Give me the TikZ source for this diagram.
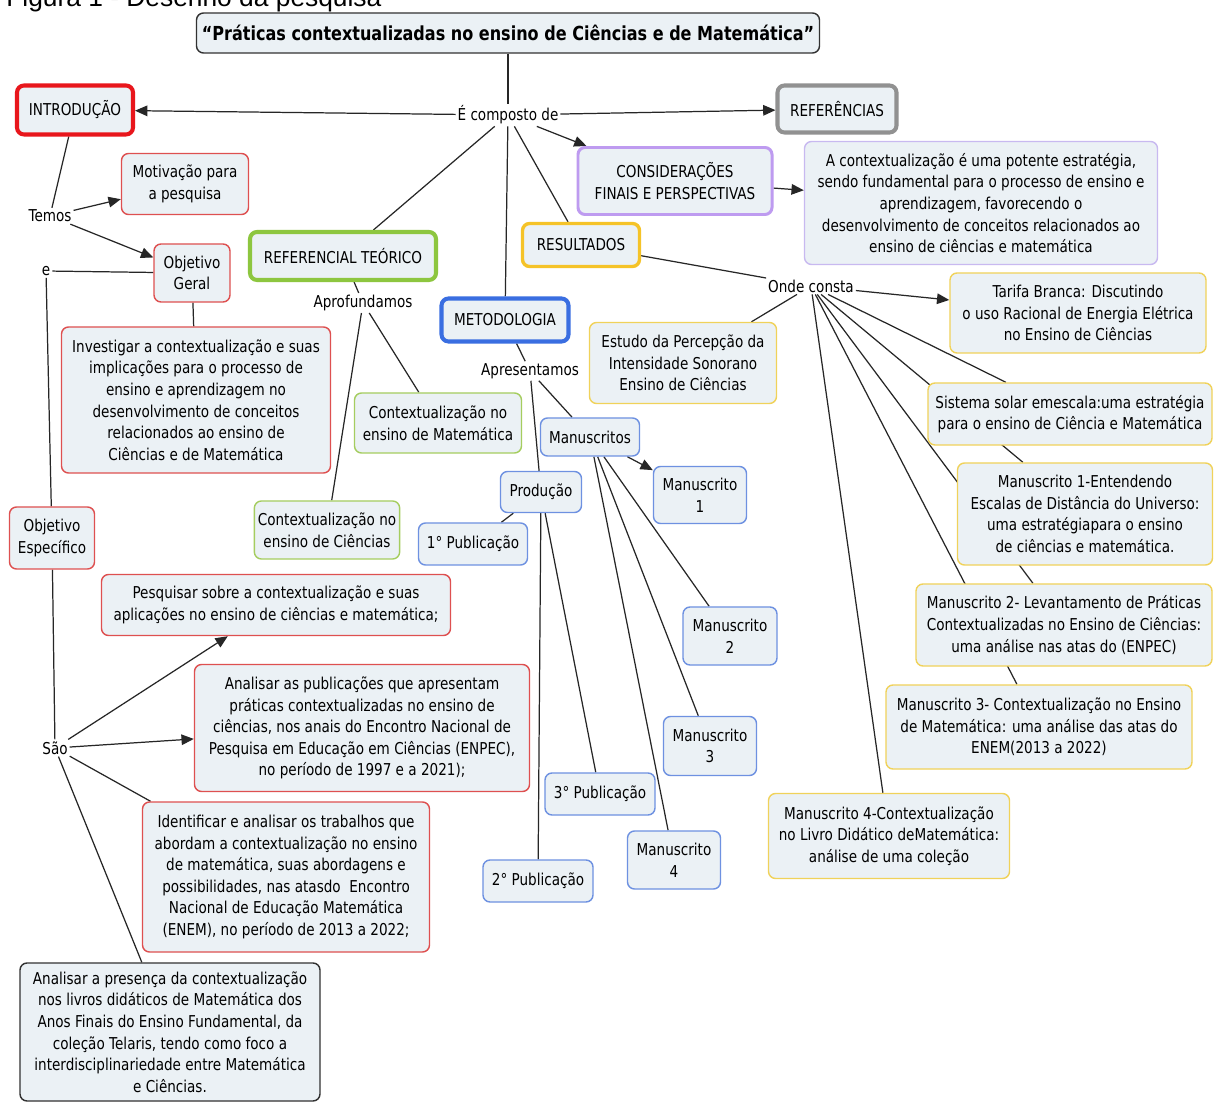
\documentclass[tikz,border=0pt]{standalone}
\usepackage{fontspec}
\setmainfont{DejaVu Sans}[FakeStretch=0.83]
\newfontfamily\captfont{Liberation Sans}
\usetikzlibrary{arrows.meta}

\definecolor{boxfill}{RGB}{235,241,245}
\definecolor{redA}{RGB}{232,22,28}
\definecolor{redB}{RGB}{222,80,80}
\definecolor{greenA}{RGB}{141,198,63}
\definecolor{greenB}{RGB}{165,205,95}
\definecolor{blueA}{RGB}{58,110,225}
\definecolor{blueB}{RGB}{110,145,225}
\definecolor{yellowA}{RGB}{245,195,40}
\definecolor{yellowB}{RGB}{240,210,90}
\definecolor{purpleA}{RGB}{190,155,240}
\definecolor{purpleB}{RGB}{200,185,240}
\definecolor{greyA}{RGB}{145,145,145}
\definecolor{darkA}{RGB}{50,50,50}

\pgfdeclarelayer{bg}
\pgfdeclarelayer{links}
\pgfsetlayers{bg,links,main}

\tikzset{
  box/.style={draw, rounded corners=4pt, fill=boxfill, align=center, inner sep=2pt,
    font=\fontsize{9.3}{12.3}\selectfont, line width=0.8pt},
  thickbox/.style={box, line width=2.3pt},
  sz/.style 2 args={minimum width=#1*0.02cm, minimum height=#2*0.02cm},
  lbl/.style={inner sep=1pt, font=\fontsize{9.3}{12.3}\selectfont},
  link/.style={draw=black!85, line width=0.7pt},
  arr/.style={link, -{Triangle[length=7pt,width=6pt]}},
}

\begin{document}
\begin{tikzpicture}[x=0.02cm, y=-0.02cm]
\begin{pgfonlayer}{bg}
\fill[white] (0,0) rectangle (1214,1104);
\end{pgfonlayer}
\useasboundingbox (0,0) rectangle (1214,1104);

\node[anchor=base west, inner sep=0, font=\captfont\fontsize{15}{17}\selectfont] (fig) at (6,7) {Figura 1 - Desenho da pesquisa};

\node[box, draw=darkA, sz={623}{40}, font=\bfseries\fontsize{11}{13}\selectfont] (title) at (508,33)
  {“Práticas contextualizadas no ensino de Ciências e de Matemática”};

\node[lbl] (comp) at (508,115) {É composto de};
\node[thickbox, draw=redA, sz={116}{49}] (intro) at (75,110) {INTRODUÇÃO};
\node[thickbox, draw=greyA, sz={119}{47}] (refs) at (837,109) {REFERÊNCIAS};
\node[box, draw=purpleA, line width=1.7pt, sz={194}{67}] (consid) at (675,181) {CONSIDERAÇÕES\\FINAIS E PERSPECTIVAS};
\node[box, draw=purpleB, sz={353}{123}] (concl) at (981,203)
  {A contextualização é uma potente estratégia,\\sendo fundamental para o processo de ensino e\\aprendizagem, favorecendo o\\desenvolvimento de conceitos relacionados ao\\ensino de ciências e matemática};

% introducao
\node[lbl] (temos) at (50,216) {Temos};
\node[box, draw=redB, sz={127}{61}] (motiv) at (185,184) {Motivação para\\a pesquisa};
\node[box, draw=redB, sz={76}{58}] (objg) at (192,273) {Objetivo\\Geral};
\node[lbl] (e) at (46,271) {e};
\node[box, draw=redB, sz={269}{146}] (invest) at (196,400)
  {Investigar a contextualização e suas\\implicações para o processo de\\ensino e aprendizagem no\\desenvolvimento de conceitos\\relacionados ao ensino de\\Ciências e de Matemática};
\node[box, draw=redB, sz={85}{62}] (objesp) at (52,538) {Objetivo\\Específico};
\node[lbl] (sao) at (55,748) {São};
\node[box, draw=redB, sz={349}{61}] (pesq) at (276,605)
  {Pesquisar sobre a contextualização e suas\\aplicações no ensino de ciências e matemática;};
\node[box, draw=redB, sz={335}{127}] (analpub) at (362,728)
  {Analisar as publicações que apresentam\\práticas contextualizadas no ensino de\\ciências, nos anais do Encontro Nacional de\\Pesquisa em Educação em Ciências (ENPEC),\\no período de 1997 e a 2021);};
\node[box, draw=redB, sz={287}{150}] (ident) at (286,877)
  {Identificar e analisar os trabalhos que\\abordam a contextualização no ensino\\de matemática, suas abordagens e\\possibilidades, nas atasdo~ Encontro\\Nacional de Educação Matemática\\(ENEM), no período de 2013 a 2022;};
\node[box, draw=darkA, sz={300}{138}] (analpres) at (170,1032)
  {Analisar a presença da contextualização\\nos livros didáticos de Matemática dos\\Anos Finais do Ensino Fundamental, da\\coleção Telaris, tendo como foco a\\interdisciplinariedade entre Matemática\\e Ciências.};

% referencial
\node[thickbox, draw=greenA, sz={186}{48}] (reft) at (343,256) {REFERENCIAL TEÓRICO};
\node[lbl] (aprof) at (363,303) {Aprofundamos};
\node[box, draw=greenB, sz={167}{60}] (ctxmat) at (438,423) {Contextualização no\\ensino de Matemática};
\node[box, draw=greenB, sz={145}{58}] (ctxcien) at (327,530) {Contextualização no\\ensino de Ciências};

% metodologia
\node[thickbox, draw=blueA, sz={127}{43}] (metod) at (505,320) {METODOLOGIA};
\node[lbl] (apres) at (530,371) {Apresentamos};
\node[box, draw=blueB, sz={99}{38}] (manus) at (590,437) {Manuscritos};
\node[box, draw=blueB, sz={81}{41}] (prod) at (541,492) {Produção};
\node[box, draw=blueB, sz={93}{57}] (man1) at (700,495) {Manuscrito\\1};
\node[box, draw=blueB, sz={109}{42}] (pub1) at (473,544) {1° Publicação};
\node[box, draw=blueB, sz={94}{58}] (man2) at (730,636) {Manuscrito\\2};
\node[box, draw=blueB, sz={93}{59}] (man3) at (710,746) {Manuscrito\\3};
\node[box, draw=blueB, sz={110}{42}] (pub3) at (600,794) {3° Publicação};
\node[box, draw=blueB, sz={93}{58}] (man4) at (674,860) {Manuscrito\\4};
\node[box, draw=blueB, sz={110}{42}] (pub2) at (538,881) {2° Publicação};

% resultados
\node[thickbox, draw=yellowA, line width=1.9pt, sz={117}{43}] (result) at (581,245) {RESULTADOS};
\node[lbl] (onde) at (811,286) {Onde consta};
\node[box, draw=yellowB, sz={187}{81}] (estudo) at (683,363) {Estudo da Percepção da\\Intensidade Sonorano\\Ensino de Ciências};
\node[box, draw=yellowB, sz={256}{80}] (tarifa) at (1078,313) {Tarifa Branca: Discutindo\\o uso Racional de Energia Elétrica\\no Ensino de Ciências};
\node[box, draw=yellowB, sz={284}{62}] (sist) at (1070,414) {Sistema solar emescala:uma estratégia\\para o ensino de Ciência e Matemática};
\node[box, draw=yellowB, sz={255}{102}] (m1ent) at (1085,514) {Manuscrito 1-Entendendo\\Escalas de Distância do Universo:\\uma estratégiapara o ensino\\de ciências e matemática.};
\node[box, draw=yellowB, sz={296}{82}] (m2lev) at (1064,625) {Manuscrito 2- Levantamento de Práticas\\Contextualizadas no Ensino de Ciências:\\uma análise nas atas do (ENPEC)};
\node[box, draw=yellowB, sz={306}{84}] (m3ctx) at (1039,727) {Manuscrito 3- Contextualização no Ensino\\de Matemática: uma análise das atas do\\ENEM(2013 a 2022)};
\node[box, draw=yellowB, sz={241}{85}] (m4ctx) at (889,836) {Manuscrito 4-Contextualização\\no Livro Didático deMatemática:\\análise de uma coleção};

\begin{pgfonlayer}{links}
\draw[link] (title) -- (comp);
\draw[arr] (comp) -- (intro);
\draw[arr] (comp) -- (refs);
\draw[arr] (comp) -- (consid);
\draw[arr] (consid) -- (concl);
\draw[link] (comp) -- (reft);
\draw[link] (comp) -- (metod);
\draw[link] (comp) -- (result);

\draw[link] (intro) -- (temos);
\draw[arr] (temos) -- (motiv);
\draw[arr] (temos) -- (objg);
\draw[link] (objg) -- (e);
\draw[link] (objg) -- (invest);
\draw[link] (e) -- (objesp);
\draw[link] (objesp) -- (sao);
\draw[arr] (sao) -- (pesq);
\draw[arr] (sao) -- (analpub);
\draw[link] (sao) -- (ident);
\draw[link] (sao) -- (analpres);

\draw[link] (reft) -- (aprof);
\draw[link] (aprof) -- (ctxmat);
\draw[link] (aprof) -- (ctxcien);

\draw[link] (metod) -- (apres);
\draw[link] (apres) -- (manus);
\draw[link] (apres) -- (prod);
\draw[arr] (manus) -- (man1);
\draw[link] (manus) -- (man2);
\draw[link] (manus) -- (man3);
\draw[link] (manus) -- (man4);
\draw[link] (prod) -- (pub1);
\draw[link] (prod) -- (pub3);
\draw[link] (prod) -- (pub2);

\draw[link] (result) -- (onde);
\draw[arr] (onde) -- (tarifa);
\draw[link] (onde) -- (estudo);
\draw[link] (onde) -- (sist);
\draw[link] (onde) -- (m1ent);
\draw[link] (onde) -- (m2lev);
\draw[link] (onde) -- (m3ctx);
\draw[link] (onde) -- (m4ctx);
\end{pgfonlayer}
\end{tikzpicture}
\end{document}
